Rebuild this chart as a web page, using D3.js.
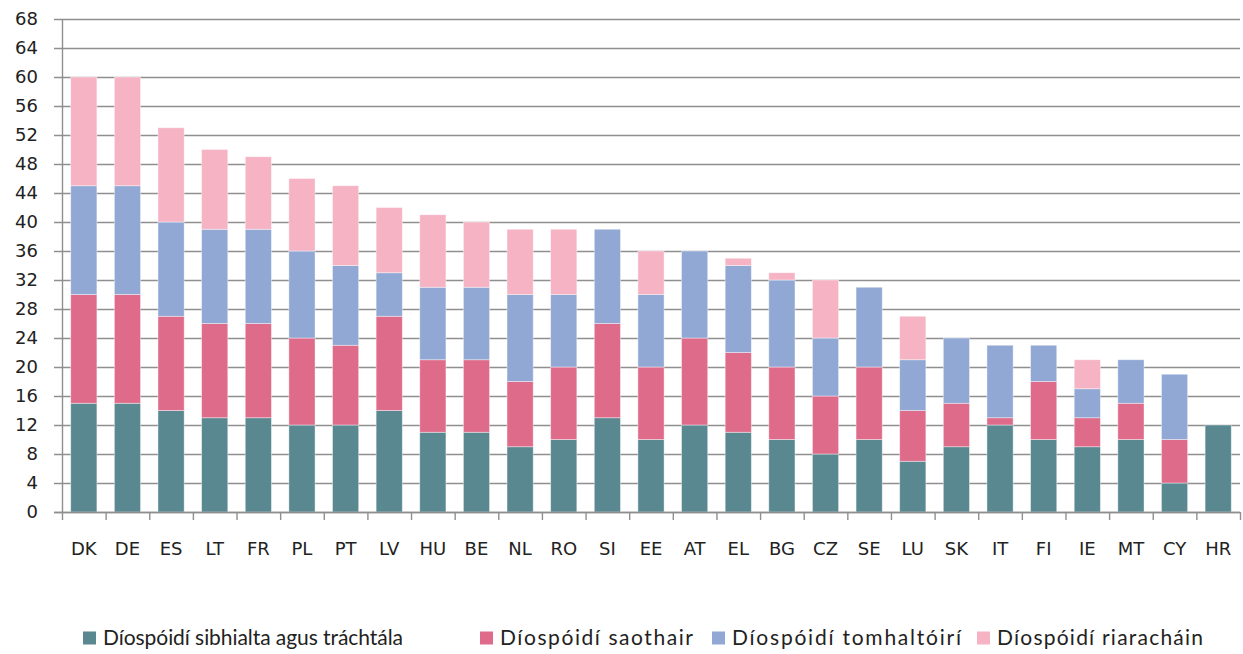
<!DOCTYPE html>
<html><head><meta charset="utf-8">
<script src="https://cdn.jsdelivr.net/npm/d3@7/dist/d3.min.js"></script>
<style>body{margin:0;background:#fff}svg{display:block}</style>
</head><body>
<svg id="c" width="1243" height="654"></svg>
<script>
const categories = ["DK","DE","ES","LT","FR","PL","PT","LV","HU","BE","NL","RO","SI","EE","AT","EL","BG","CZ","SE","LU","SK","IT","FI","IE","MT","CY","HR"];
const civil    = [15,15,14,13,13,12,12,14,11,11, 9,10,13,10,12,11,10, 8,10, 7, 9,12,10, 9,10, 4,12];
const labour   = [15,15,13,13,13,12,11,13,10,10, 9,10,13,10,12,11,10, 8,10, 7, 6, 1, 8, 4, 5, 6, 0];
const consumer = [15,15,13,13,13,12,11, 6,10,10,12,10,13,10,12,12,12, 8,11, 7, 9,10, 5, 4, 6, 9, 0];
const admin    = [15,15,13,11,10,10,11, 9,10, 9, 9, 9, 0, 6, 0, 1, 1, 8, 0, 6, 0, 0, 0, 4, 0, 0, 0];
const seriesNames = ["Díospóidí sibhialta agus tráchtála","Díospóidí saothair","Díospóidí tomhaltóirí","Díospóidí riaracháin"];
const yTicks = [0,4,8,12,16,20,24,28,32,36,40,44,48,52,56,60,64,68];
const colors = ["#598890","#df6b8b","#91a8d4","#f5b3c4"];

const svg = d3.select("#c");
const m = {l:62, r:1240, t:19, b:512};
const x = d3.scaleBand().domain(categories).range([m.l, m.r]).paddingInner(0.4).paddingOuter(0.2);
const y = d3.scaleLinear().domain([0,68]).range([m.b, m.t]);

// gridlines
svg.append("g").selectAll("line").data(yTicks).join("line")
  .attr("x1", m.l-8).attr("x2", m.r).attr("y1", d=>y(d)+0.5).attr("y2", d=>y(d)+0.5)
  .attr("stroke", "#8f8f8f").attr("stroke-width", 1.4);

// y labels
svg.append("g").selectAll("text").data(yTicks).join("text")
  .attr("x", 38).attr("y", d=>y(d)).attr("dy","0.36em").attr("text-anchor","end")
  .attr("font-family","DejaVu Sans, Verdana, sans-serif").attr("font-size",18).attr("fill","#222")
  .text(d=>d);

// stacked bars
const rows = categories.map((c,i)=>({cat:c, s0:civil[i], s1:labour[i], s2:consumer[i], s3:admin[i]}));
const stack = d3.stack().keys(["s0","s1","s2","s3"])(rows);
svg.append("g").selectAll("g").data(stack).join("g").attr("fill",(d,i)=>colors[i])
  .selectAll("rect").data(d=>d.filter(p=>p[1]-p[0]>0)).join("rect")
  .attr("x", d=>x(d.data.cat)).attr("width", x.bandwidth())
  .attr("y", d=>y(d[1])).attr("height", d=>y(d[0])-y(d[1]))
  .attr("stroke","#ffffff").attr("stroke-opacity",0.5).attr("stroke-width",0.8);

// axes lines
svg.append("line").attr("x1",m.l+0.5).attr("x2",m.l+0.5).attr("y1",m.t).attr("y2",m.b+8)
  .attr("stroke","#8f8f8f").attr("stroke-width",1.4);
svg.append("line").attr("x1",m.l-8).attr("x2",m.r).attr("y1",m.b+0.5).attr("y2",m.b+0.5)
  .attr("stroke","#8f8f8f").attr("stroke-width",1.4);
const step = x.step();
svg.append("g").selectAll("line").data(categories).join("line")
  .attr("x1", d=>x(d)-x.paddingInner()*step/2+step+0.5).attr("x2", d=>x(d)-x.paddingInner()*step/2+step+0.5)
  .attr("y1", m.b).attr("y2", m.b+8).attr("stroke","#8f8f8f").attr("stroke-width",1.4);

// x labels
svg.append("g").selectAll("text").data(categories).join("text")
  .attr("x", d=>x(d)+x.bandwidth()/2).attr("y", 555).attr("text-anchor","middle")
  .attr("font-family","DejaVu Sans, Verdana, sans-serif").attr("font-size",18).attr("fill","#222")
  .text(d=>d);

// legend layout
const legX = [83, 480, 712, 977];
const legW = [300, 193, 229, 206];
const lg = svg.append("g").selectAll("g").data(seriesNames).join("g")
  .attr("transform",(d,i)=>`translate(${legX[i]},638)`);
lg.append("rect").attr("x",0).attr("y",-6.5).attr("width",13).attr("height",13).attr("fill",(d,i)=>colors[i]);
lg.append("text").attr("x",20).attr("y",0).attr("dy","0.35em")
  .attr("font-family","Lato, Open Sans, sans-serif").attr("font-size",21).attr("fill","#222")
  .attr("textLength",(d,i)=>legW[i]).attr("lengthAdjust","spacing")
  .text(d=>d);
</script>
</body></html>
